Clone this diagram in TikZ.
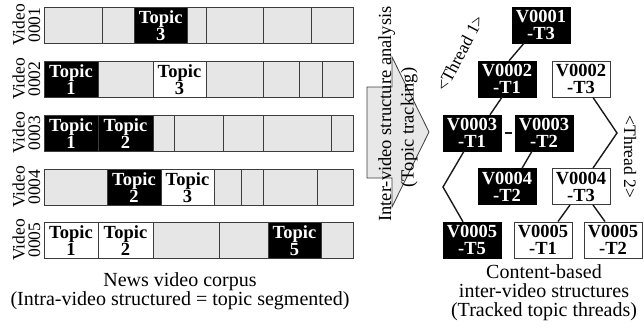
\documentclass[tikz,border=0pt]{standalone}
\usepackage{fontspec}
\setmainfont{Liberation Serif}
\usetikzlibrary{calc}
\definecolor{cellgray}{HTML}{E6E6E6}
\definecolor{edge}{HTML}{3C3C3C}
\definecolor{arrowgray}{HTML}{E8E8E8}
\begin{document}
\begin{tikzpicture}[x=1pt,y=-1pt,
  gcell/.style={fill=cellgray,draw=edge,line width=0.9pt},
  bcell/.style={fill=black,draw=edge,line width=0.9pt},
  wcell/.style={fill=white,draw=edge,line width=0.9pt},
  ttxt/.style={font=\fontsize{18.5}{17}\selectfont\bfseries,align=center,inner sep=0pt},
  wtxt/.style={ttxt,text=white},
  vlab/.style={font=\fontsize{17.5}{15.5}\selectfont,rotate=90,align=center,inner sep=0pt},
  tbox/.style={minimum width=58pt,minimum height=36pt,inner sep=0pt,align=center,font=\fontsize{18.5}{17}\selectfont\bfseries},
  tblack/.style={tbox,fill=black,text=white,draw=black},
  twhite/.style={tbox,fill=white,draw=edge,line width=0.9pt},
  conn/.style={line width=1.4pt,draw=black!90},
  captxt/.style={font=\fontsize{20}{19}\selectfont,align=center,inner sep=0pt},
  rtxt/.style={font=\fontsize{18.5}{18.5}\selectfont,inner sep=0pt,anchor=base,rotate=90},
  thr/.style={font=\fontsize{17.5}{17.5}\selectfont,inner sep=0pt}
]
\useasboundingbox (0,0) rectangle (644,327);

% ---------- left: segmented videos ----------
% Row 1
\draw[gcell] (44,7) rectangle (102,43);
\draw[gcell] (102,7) rectangle (134.5,43);
\draw[bcell] (134.5,7) rectangle (187,43);
\draw[gcell] (187,7) rectangle (206,43);
\draw[gcell] (206,7) rectangle (263,43);
\draw[gcell] (263,7) rectangle (311,43);
\draw[gcell] (311,7) rectangle (353,43);
\node[wtxt] (r1t3) at (160.75,25.5) {Topic\\3};
% Row 2
\draw[bcell] (44,61) rectangle (98,97);
\draw[gcell] (98,61) rectangle (153,97);
\draw[wcell] (153,61) rectangle (206,97);
\draw[gcell] (206,61) rectangle (263,97);
\draw[gcell] (263,61) rectangle (299,97);
\draw[gcell] (299,61) rectangle (322,97);
\draw[gcell] (322,61) rectangle (353,97);
\node[wtxt] (r2t1) at (71,79.5) {Topic\\1};
\node[ttxt] (r2t3) at (179.5,79.5) {Topic\\3};
% Row 3
\draw[bcell] (44,115) rectangle (98,151);
\draw[bcell] (98,115) rectangle (153,151);
\draw[gcell] (153,115) rectangle (174,151);
\draw[gcell] (174,115) rectangle (223,151);
\draw[gcell] (223,115) rectangle (263,151);
\draw[gcell] (263,115) rectangle (331,151);
\draw[gcell] (331,115) rectangle (353,151);
\node[wtxt] (r3t1) at (71,133.5) {Topic\\1};
\node[wtxt] (r3t2) at (125.5,133.5) {Topic\\2};
% Row 4
\draw[gcell] (44,169) rectangle (107,205);
\draw[bcell] (107,169) rectangle (161,205);
\draw[wcell] (161,169) rectangle (214,205);
\draw[gcell] (214,169) rectangle (241,205);
\draw[gcell] (241,169) rectangle (263,205);
\draw[gcell] (263,169) rectangle (317,205);
\draw[gcell] (317,169) rectangle (353,205);
\node[wtxt] (r4t2) at (134,187.5) {Topic\\2};
\node[ttxt] (r4t3) at (187.5,187.5) {Topic\\3};
% Row 5
\draw[wcell] (44,222) rectangle (98,258);
\draw[wcell] (98,222) rectangle (153,258);
\draw[gcell] (153,222) rectangle (219,258);
\draw[gcell] (219,222) rectangle (268,258);
\draw[bcell] (268,222) rectangle (321,258);
\draw[gcell] (321,222) rectangle (353,258);
\node[ttxt] (r5t1) at (71,240.5) {Topic\\1};
\node[ttxt] (r5t2) at (125.5,240.5) {Topic\\2};
\node[wtxt] (r5t5) at (294.5,240.5) {Topic\\5};

% video labels
\node[vlab] (vl1) at (26.5,25) {Video\\0001};
\node[vlab] (vl2) at (26.5,79) {Video\\0002};
\node[vlab] (vl3) at (26.5,133) {Video\\0003};
\node[vlab] (vl4) at (26.5,187) {Video\\0004};
\node[vlab] (vl5) at (26.5,240) {Video\\0005};

\node[captxt] (lcap) at (180,291) {News video corpus\\(Intra-video structured = topic segmented)};

% ---------- middle arrow ----------
\draw[fill=arrowgray,draw=edge,line width=0.8pt]
  (367,87) -- (392,87) -- (392,57) -- (429,132) -- (392,207) -- (392,178) -- (367,178) -- cycle;
\node[rtxt] (mt1) at (391,114) {Inter-video structure analysis};
\node[rtxt] (mt2) at (413.5,127.5) {(Topic tracking)};

% ---------- right: topic threads ----------
\node[tblack] (v1)  at (541,25)    {V0001\\-T3};
\node[tblack] (v2a) at (507,79)    {V0002\\-T1};
\node[twhite] (v2b) at (581,79)    {V0002\\-T3};
\node[tblack] (v3a) at (472,133)   {V0003\\-T1};
\node[tblack] (v3b) at (544,133)   {V0003\\-T2};
\node[tblack] (v4a) at (507,186.5) {V0004\\-T2};
\node[twhite] (v4b) at (581,186.5) {V0004\\-T3};
\node[tblack] (v5a) at (472,240)   {V0005\\-T5};
\node[twhite] (v5b) at (543,240)   {V0005\\-T1};
\node[twhite] (v5c) at (613,240)   {V0005\\-T2};

\coordinate (k1) at (443,187);
\coordinate (k2) at (617,133);

\draw[conn] ([xshift=-17pt]v1.south) -- ([xshift=2pt]v2a.north);
\draw[conn] ([xshift=-5pt]v2a.south) -- ([xshift=18pt]v3a.north);
\draw[line width=2.2pt,draw=black!90] ([xshift=4pt]v3a.east) -- ([xshift=-3pt]v3b.west);
\draw[conn] ([xshift=-12pt]v3b.south) -- ([xshift=15pt]v4a.north);
\draw[conn] ([xshift=-8pt]v3a.south) -- (k1) -- ([xshift=-9pt]v5a.north);
\draw[conn] ([xshift=12pt]v2b.south) -- (k2) -- ([xshift=12pt]v4b.north);
\draw[conn] ([xshift=-11pt]v4b.south) -- ([xshift=15pt]v5b.north);
\draw[conn] ([xshift=12pt]v4b.south) -- ([xshift=-8pt]v5c.north);

\node[thr,rotate=62] (th1) at (460,53) {<Thread 1>};
\node[thr,rotate=-90] (th2) at (630,157) {<Thread 2>};

\node[captxt] (rcap) at (544,293) {Content-based\\inter-video structures\\(Tracked topic threads)};
\end{tikzpicture}
\end{document}
